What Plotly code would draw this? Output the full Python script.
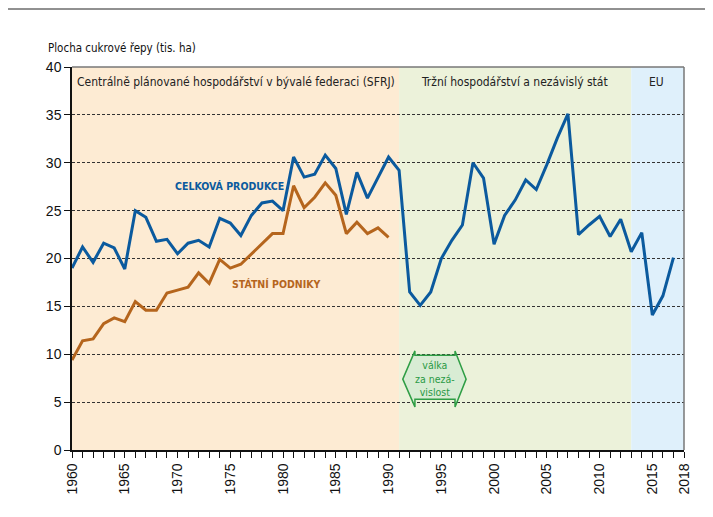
import plotly.graph_objects as go

years_total = list(range(1960, 2018))
total = [19.0, 21.2, 19.6, 21.6, 21.1, 18.9, 25.0, 24.3, 21.8, 22.0,
         20.5, 21.6, 21.9, 21.2, 24.2, 23.7, 22.4, 24.5, 25.8, 26.0,
         25.0, 30.6, 28.5, 28.8, 30.8, 29.4, 24.6, 29.0, 26.3, 28.4,
         30.6, 29.2, 16.5, 15.1, 16.5, 20.0, 21.9, 23.5, 30.0, 28.4,
         21.5, 24.5, 26.1, 28.2, 27.2, 29.8, 32.6, 35.1, 22.5, 23.5,
         24.4, 22.3, 24.1, 20.7, 22.7, 14.1, 16.1, 20.1]

years_state = list(range(1960, 1991))
state = [9.4, 11.4, 11.6, 13.2, 13.8, 13.4, 15.5, 14.6, 14.6, 16.4,
         16.7, 17.0, 18.5, 17.4, 19.9, 19.0, 19.4, 20.5, 21.5, 22.6,
         22.6, 27.6, 25.3, 26.4, 27.9, 26.6, 22.6, 23.8, 22.6, 23.2,
         22.2]

tick_years = list(range(1960, 2019))
tick_labels = [str(y) if (y % 5 == 0 or y == 2018) else "" for y in tick_years]

periods = [(1960, 1991, "#fdebd3", "Centrálně plánované hospodářství v bývalé federaci (SFRJ)", 1975.5),
           (1991, 2013, "#ecf2da", "Tržní hospodářství a nezávislý stát", 2001.9),
           (2013, 2018, "#dff0fb", "EU", 2015.4)]

NARROW = "DejaVu Sans Condensed"
REG = "Liberation Sans"

fig = go.Figure()
fig.add_trace(go.Scatter(x=years_total, y=total, mode="lines",
                         line=dict(color="#0b5a9e", width=3), hoverinfo="skip"))
fig.add_trace(go.Scatter(x=years_state, y=state, mode="lines",
                         line=dict(color="#b5651d", width=3), hoverinfo="skip"))

shapes = []
annotations = []
for x0, x1, col, label, xc in periods:
    shapes.append(dict(type="rect", xref="x", yref="y", x0=x0, x1=x1, y0=0, y1=40,
                       fillcolor=col, line=dict(width=0), layer="below"))
    annotations.append(dict(x=xc, y=38.4, xref="x", yref="y", text=label, showarrow=False,
                            font=dict(family=NARROW, size=12, color="#222")))

# plot border (top and right, gray)
shapes.append(dict(type="line", xref="paper", yref="paper", x0=0, x1=1, y0=1, y1=1,
                   line=dict(color="#777", width=1.5)))
shapes.append(dict(type="line", xref="paper", yref="paper", x0=1, x1=1, y0=0, y1=1,
                   line=dict(color="#777", width=1.5)))
# outer frame
shapes.append(dict(type="line", xref="paper", yref="paper", x0=-0.1062, x1=1.08, y0=1.1514, y1=1.1514,
                   line=dict(color="#222", width=1)))
shapes.append(dict(type="line", xref="paper", yref="paper", x0=-0.1062, x1=-0.1062, y0=1.1514, y1=-0.2,
                   line=dict(color="#222", width=1)))

# war arrow shape
xl, xa, xb, xr = 1991.35, 1992.5, 1996.3, 1997.35
yt, ys_t, ys_b, yb, ym = 10.35, 9.9, 5.3, 4.5, 7.4
path = (f"M {xl},{ym} L {xa},{yt} L {xa},{ys_t} L {xb},{ys_t} L {xb},{yt} L {xr},{ym} "
        f"L {xb},{yb} L {xb},{ys_b} L {xa},{ys_b} L {xa},{yb} Z")
shapes.append(dict(type="path", xref="x", yref="y", path=path,
                   fillcolor="#d8ecd4", line=dict(color="#2f9e45", width=1.5)))
annotations.append(dict(x=1994.4, y=7.45, xref="x", yref="y", text="válka<br>za nezá-<br>vislost",
                        showarrow=False, font=dict(family=NARROW, size=10.5, color="#2a9a45")))

annotations.append(dict(x=1974.9, y=27.6, xref="x", yref="y", text="<b>CELKOVÁ PRODUKCE</b>",
                        showarrow=False, font=dict(family=NARROW, size=10.5, color="#0b5a9e")))
annotations.append(dict(x=1979.4, y=17.3, xref="x", yref="y", text="<b>STÁTNÍ PODNIKY</b>",
                        showarrow=False, font=dict(family=NARROW, size=10.5, color="#b5651d")))
annotations.append(dict(x=-0.0425, y=1.0496, xref="paper", yref="paper",
                        text="Plocha cukrové řepy (tis. ha)", showarrow=False,
                        xanchor="left", yanchor="middle",
                        font=dict(family=NARROW, size=11.5, color="#111")))

fig.update_layout(
    width=713, height=517,
    margin=dict(l=64, r=37, t=59, b=75),
    paper_bgcolor="white", plot_bgcolor="white",
    showlegend=False,
    shapes=shapes, annotations=annotations,
    xaxis=dict(range=[1960, 2018], tickvals=tick_years, ticktext=tick_labels,
               tickangle=-90, ticks="outside", ticklen=6, tickcolor="#111",
               showline=True, linecolor="#111", linewidth=1.5,
               showgrid=False, zeroline=False,
               tickfont=dict(family=REG, size=14, color="#111")),
    yaxis=dict(range=[0, 40], dtick=5, ticks="outside", ticklen=6, tickcolor="#111",
               showline=True, linecolor="#111", linewidth=1.5,
               showgrid=True, gridcolor="#333", griddash="3px,2px", gridwidth=1,
               zeroline=False,
               tickfont=dict(family=REG, size=14, color="#111")),
)

fig.write_html("out.html")
